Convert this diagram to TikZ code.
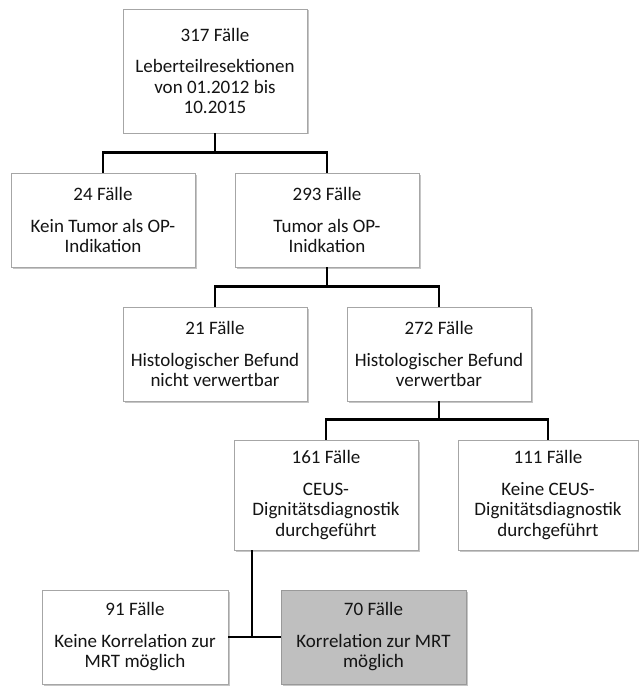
\documentclass[tikz,border=0pt]{standalone}
\usepackage{fontspec}
\setmainfont{Carlito}
\usetikzlibrary{shadows}
\tikzset{
	fallbox/.style={
			draw=black!35, line width=0.8pt, fill=white,
			minimum width=184pt, minimum height=94pt, inner sep=0pt,
			align=center, text=black!92,
			font=\fontsize{19}{20.5}\selectfont,
			drop shadow={shadow xshift=1.5pt, shadow yshift=-1.5pt, opacity=0.45}
		},
	greybox/.style={fallbox, fill=black!25, draw=black!40},
	link/.style={draw=black, line width=2.8pt, line join=miter}
}

\begin{document}
\begin{tikzpicture}[x=1pt, y=-1pt]
			\useasboundingbox (0,0) rectangle (638,687);

			% Boxes of the flow chart
			\node[fallbox, minimum height=124pt] (top) at (215,71) {317 Fälle\\[11pt]Leberteilresektionen\\von 01.2012 bis\\10.2015};
			\node[fallbox] (nokein) at (103,220) {24 Fälle\\[11pt]Kein Tumor als OP-\\Indikation};
			\node[fallbox] (tumor) at (327,220) {293 Fälle\\[11pt]Tumor als OP-\\Inidkation};
			\node[fallbox] (histno) at (215,354) {21 Fälle\\[11pt]Histologischer Befund\\nicht verwertbar};
			\node[fallbox] (histyes) at (439,354) {272 Fälle\\[11pt]Histologischer Befund\\verwertbar};
			\node[fallbox, minimum height=110pt] (ceus) at (326,495) {161 Fälle\\[11pt]CEUS-\\Dignitätsdiagnostik\\durchgeführt};
			\node[fallbox, minimum width=180pt, minimum height=110pt] (noceus) at (548,495) {111 Fälle\\[11pt]Keine CEUS-\\Dignitätsdiagnostik\\durchgeführt};
			\node[fallbox, minimum width=186pt] (nomrt) at (135,637) {91 Fälle\\[11pt]Keine Korrelation zur\\MRT möglich};
			\node[greybox, minimum width=185pt] (mrt) at (373.5,637) {70 Fälle\\[11pt]Korrelation zur MRT\\möglich};

			% Connect the boxes
			\draw[link] (top.south) -- ++(0,20);
			\draw[link] (nokein.north) -- ++(0,-20) -| (tumor.north);
			\draw[link] (tumor.south) -- ++(0,20);
			\draw[link] (histno.north) -- ++(0,-20) -| (histyes.north);
			\draw[link] (histyes.south) -- ++(0,19);
			\draw[link] (ceus.north) -- ++(0,-20) -| (noceus.north);

			% Split below the CEUS box
			\coordinate (split) at (252,637);
			\draw[link] (split |- ceus.south) -- (split);
			\draw[link] (nomrt.east) -- (mrt.west);
		\end{tikzpicture}
\end{document}
